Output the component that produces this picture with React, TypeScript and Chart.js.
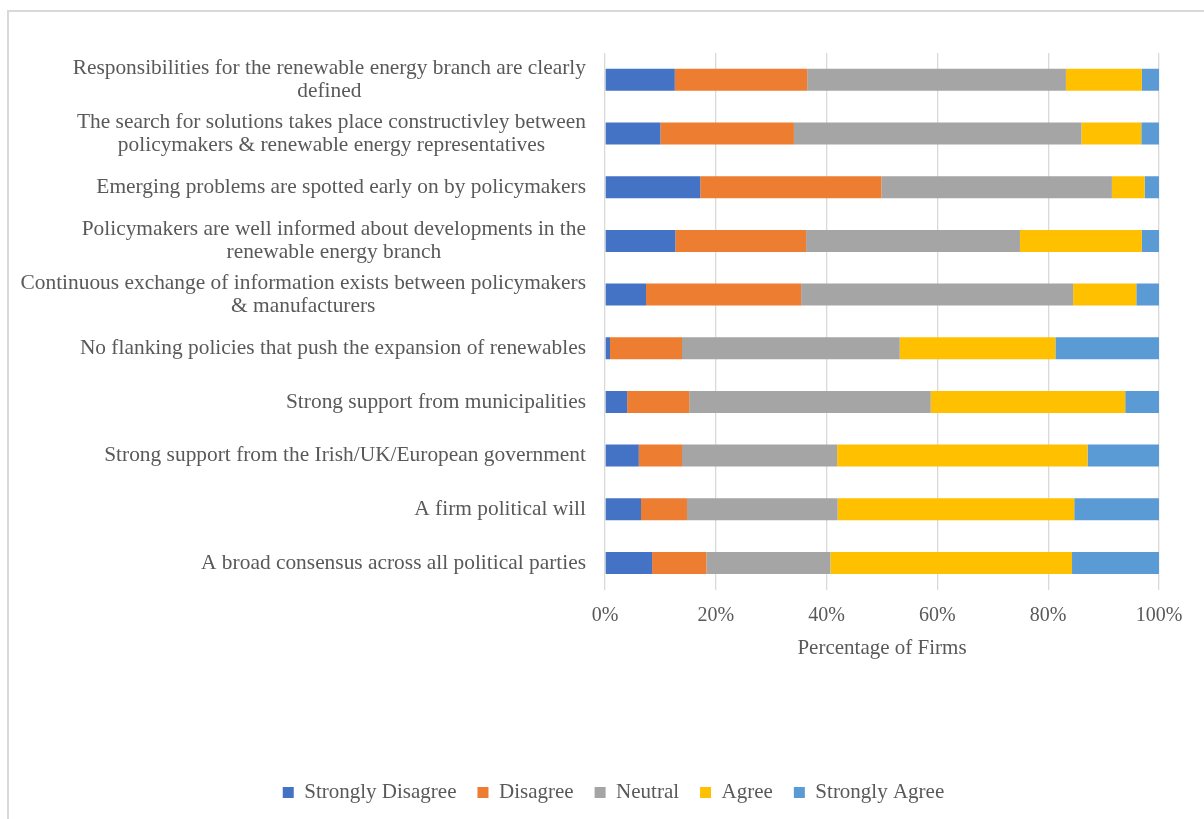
import React, { useEffect, useRef } from "react";
import { Chart, registerables } from "chart.js";
Chart.register(...registerables);

const categories: (string | string[])[] = [
  ["Responsibilities for the renewable energy branch are clearly", "defined"],
  ["The search for solutions takes place constructivley between", "policymakers & renewable energy representatives"],
  "Emerging problems are spotted early on by policymakers",
  ["Policymakers are well informed about developments in the", "renewable energy branch"],
  ["Continuous exchange of information exists between policymakers", "& manufacturers"],
  "No flanking policies that push the expansion of renewables",
  "Strong support from municipalities",
  "Strong support from the Irish/UK/European government",
  "A firm political will",
  "A broad consensus across all political parties",
];

const seriesNames = ["Strongly Disagree", "Disagree", "Neutral", "Agree", "Strongly Agree"];
const seriesColors = ["#4472C4", "#ED7D31", "#A5A5A5", "#FFC000", "#5B9BD5"];

const stronglyDisagree = [12.6, 10.0, 17.2, 12.7, 7.4, 0.9, 4.0, 6.1, 6.5, 8.5];
const disagree = [23.9, 24.1, 32.7, 23.6, 28.0, 13.0, 11.2, 7.8, 8.3, 9.8];
const neutral = [46.7, 51.9, 41.6, 38.6, 49.1, 39.3, 43.6, 28.0, 27.2, 22.4];
const agree = [13.7, 10.8, 5.9, 22.0, 11.4, 28.1, 35.1, 45.2, 42.7, 43.6];
const stronglyAgree = [3.1, 3.2, 2.6, 3.1, 4.1, 18.7, 6.1, 12.9, 15.3, 15.7];

const xTickLabels = ["0%", "20%", "40%", "60%", "80%", "100%"];
const xAxisTitle = "Percentage of Firms";

const FONT = "'Liberation Serif', 'Times New Roman', serif";
const TEXT = "#595959";
const GRID = "#d9d9d9";

const labelPlugin = {
  id: "blockLabels",
  afterDraw(chart: any) {
    const ys = chart.scales.y;
    const ctx = chart.ctx;
    ctx.save();
    ctx.font = `21.4px ${FONT}`;
    ctx.fillStyle = TEXT;
    ctx.textBaseline = "middle";
    ctx.textAlign = "center";
    const rightEdge = ys.right - 19;
    const lh = 23;
    categories.forEach((lab, i) => {
      const lines = Array.isArray(lab) ? lab : [lab];
      const w = Math.max(...lines.map((l) => ctx.measureText(l).width));
      const cx = rightEdge - w / 2;
      const y = ys.getPixelForTick(i);
      const start = y - ((lines.length - 1) * lh) / 2;
      lines.forEach((l, j) => ctx.fillText(l, cx, start + j * lh));
    });
    ctx.restore();
  },
};

export default function App() {
  const ref = useRef<HTMLCanvasElement>(null);
  useEffect(() => {
    if (!ref.current) return;
    const data = [stronglyDisagree, disagree, neutral, agree, stronglyAgree];
    const chart = new Chart(ref.current, {
      type: "bar",
      data: {
        labels: categories as any,
        datasets: seriesNames.map((name, k) => ({
          label: name,
          data: data[k],
          backgroundColor: seriesColors[k],
          borderWidth: 0,
          barPercentage: 0.41,
          categoryPercentage: 1,
        })),
      },
      options: {
        indexAxis: "y",
        responsive: false,
        animation: false,
        devicePixelRatio: 1,
        layout: { padding: { top: 53, right: 45, bottom: 6, left: 68 } },
        scales: {
          x: {
            stacked: true,
            min: 0,
            max: 100,
            ticks: {
              stepSize: 20,
              padding: 14,
              color: TEXT,
              font: { family: FONT, size: 20 },
              callback: (_v: any, i: number) => xTickLabels[i],
            },
            grid: { color: GRID, lineWidth: 1.3, drawTicks: false },
            border: { display: false },
            title: {
              display: true,
              text: xAxisTitle,
              color: TEXT,
              font: { family: FONT, size: 21 },
              padding: { top: -6, bottom: 100 },
            },
          },
          y: {
            stacked: true,
            ticks: { display: false },
            grid: { display: false },
            border: { display: false },
            afterFit: (scale: any) => {
              scale.width = 537;
            },
          },
        },
        plugins: {
          legend: {
            position: "bottom",
            labels: {
              color: TEXT,
              font: { family: FONT, size: 21 },
              boxWidth: 11,
              boxHeight: 11,
              padding: 21,
            },
          },
          tooltip: { enabled: false },
        },
      },
      plugins: [labelPlugin],
    });
    return () => chart.destroy();
  }, []);

  return (
    <div style={{ position: "fixed", left: 0, top: 0, width: 1204, height: 819, background: "#fff", overflow: "hidden" }}>
      <div
        style={{
          position: "absolute",
          left: 7,
          top: 10,
          width: 1300,
          height: 900,
          borderLeft: `2px solid ${GRID}`,
          borderTop: `2px solid ${GRID}`,
        }}
      />
      <canvas ref={ref} width={1204} height={819} style={{ position: "absolute", left: 0, top: 0, width: 1204, height: 819 }} />
    </div>
  );
}
